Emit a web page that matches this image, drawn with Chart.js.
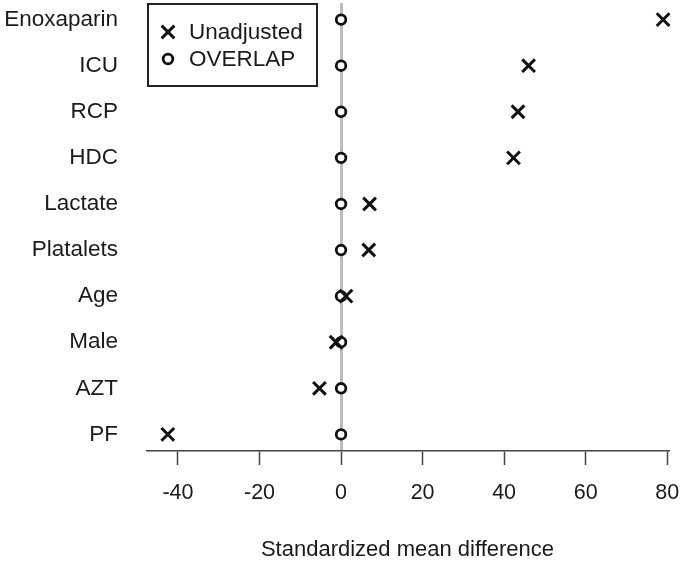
<!DOCTYPE html>
<html>
<head>
<meta charset="utf-8">
<script src="https://cdn.jsdelivr.net/npm/chart.js@4"></script>
<style>
  html, body { margin: 0; padding: 0; background: #fff; }
  #wrap { width: 685px; height: 565px; }
</style>
</head>
<body>
<div id="wrap"><canvas id="dots"></canvas></div>
<script>
var categories = ['Enoxaparin', 'ICU', 'RCP', 'HDC', 'Lactate', 'Platalets', 'Age', 'Male', 'AZT', 'PF'];
var unadjusted = [79, 46, 43.4, 42.3, 7.0, 6.8, 1.2, -1.2, -5.3, -42.5];
var overlap = [0, 0, 0, 0, 0, 0, 0, 0, 0, 0];
var xTicks = [-40, -20, 0, 20, 40, 60, 80];

var FONT = 'Liberation Sans, Arial, sans-serif';
var n = categories.length;

function points(vals) {
    return vals.map(function (v, i) { return { x: v, y: n - i }; });
}

// boxed legend in the top-left corner of the plot
var legendBox = {
    id: 'legendBox',
    afterDraw: function (chart) {
        var ctx = chart.ctx;
        var x0 = chart.chartArea.left + 1, y0 = chart.chartArea.top + 1;
        ctx.save();
        ctx.lineWidth = 2;
        ctx.strokeStyle = '#222';
        ctx.strokeRect(x0, y0, 169, 82);
        chart.data.datasets.forEach(function (ds, i) {
            var y = y0 + 28 + i * 27;
            ctx.lineWidth = ds.borderWidth;
            ctx.strokeStyle = ds.borderColor;
            ctx.fillStyle = ds.backgroundColor;
            Chart.helpers.drawPoint(ctx, { pointStyle: ds.pointStyle, radius: ds.pointRadius, borderWidth: ds.borderWidth, rotation: 0 }, x0 + 20, y);
            ctx.fillStyle = '#1a1a1a';
            ctx.font = '22.5px ' + FONT;
            ctx.textBaseline = 'middle';
            ctx.textAlign = 'left';
            ctx.fillText(ds.label, x0 + 41, y + 1);
        });
        ctx.restore();
    }
};

var ctx = document.getElementById('dots').getContext('2d');
var chart = new Chart(ctx, {
    type: 'scatter',
    data: {
        datasets: [{
            label: 'Unadjusted',
            data: points(unadjusted),
            pointStyle: 'crossRot',
            pointRadius: 9,
            pointHoverRadius: 9,
            borderWidth: 3,
            borderColor: '#111',
            backgroundColor: '#111'
        }, {
            label: 'OVERLAP',
            data: points(overlap),
            pointStyle: 'circle',
            pointRadius: 4.8,
            pointHoverRadius: 4.8,
            borderWidth: 2.8,
            borderColor: '#111',
            backgroundColor: '#fff'
        }]
    },
    options: {
        responsive: true,
        maintainAspectRatio: false,
        animation: false,
        clip: false,
        layout: { autoPadding: false, padding: { top: 3, right: 17, bottom: 0, left: 0 } },
        plugins: {
            legend: { display: false },
            tooltip: { enabled: false }
        },
        scales: {
            x: {
                type: 'linear',
                min: -47.6,
                max: 80.2,
                afterBuildTicks: function (scale) {
                    scale.ticks = xTicks.map(function (v) { return { value: v }; });
                },
                afterFit: function (scale) {
                    scale.height = 114;
                    scale.paddingLeft = 0;
                    scale.paddingRight = 0;
                },
                grid: {
                    drawOnChartArea: true,
                    color: function (c) { return c.tick && c.tick.value === 0 ? '#bdbdbd' : 'rgba(0,0,0,0)'; },
                    lineWidth: 3,
                    tickColor: '#444',
                    tickWidth: 1.5,
                    tickLength: 14
                },
                border: { display: true, color: '#444', width: 1.5 },
                ticks: {
                    padding: 15,
                    color: '#1a1a1a',
                    font: { family: FONT, size: 21.5 }
                },
                title: {
                    display: true,
                    text: 'Standardized mean difference',
                    color: '#1a1a1a',
                    font: { family: FONT, size: 22 },
                    padding: { top: 0, bottom: 2 }
                }
            },
            y: {
                type: 'linear',
                min: 0.64,
                max: n + 0.36,
                afterBuildTicks: function (scale) {
                    scale.ticks = categories.map(function (c, i) { return { value: n - i }; });
                },
                afterFit: function (scale) {
                    scale.width = 147;
                    scale.paddingTop = 0;
                    scale.paddingBottom = 0;
                },
                grid: { display: false, drawTicks: false },
                border: { display: false },
                ticks: {
                    padding: 29,
                    color: '#1a1a1a',
                    font: { family: FONT, size: 22.5 },
                    callback: function (v) { return categories[n - v]; }
                }
            }
        }
    },
    plugins: [legendBox]
});
</script>
</body>
</html>
